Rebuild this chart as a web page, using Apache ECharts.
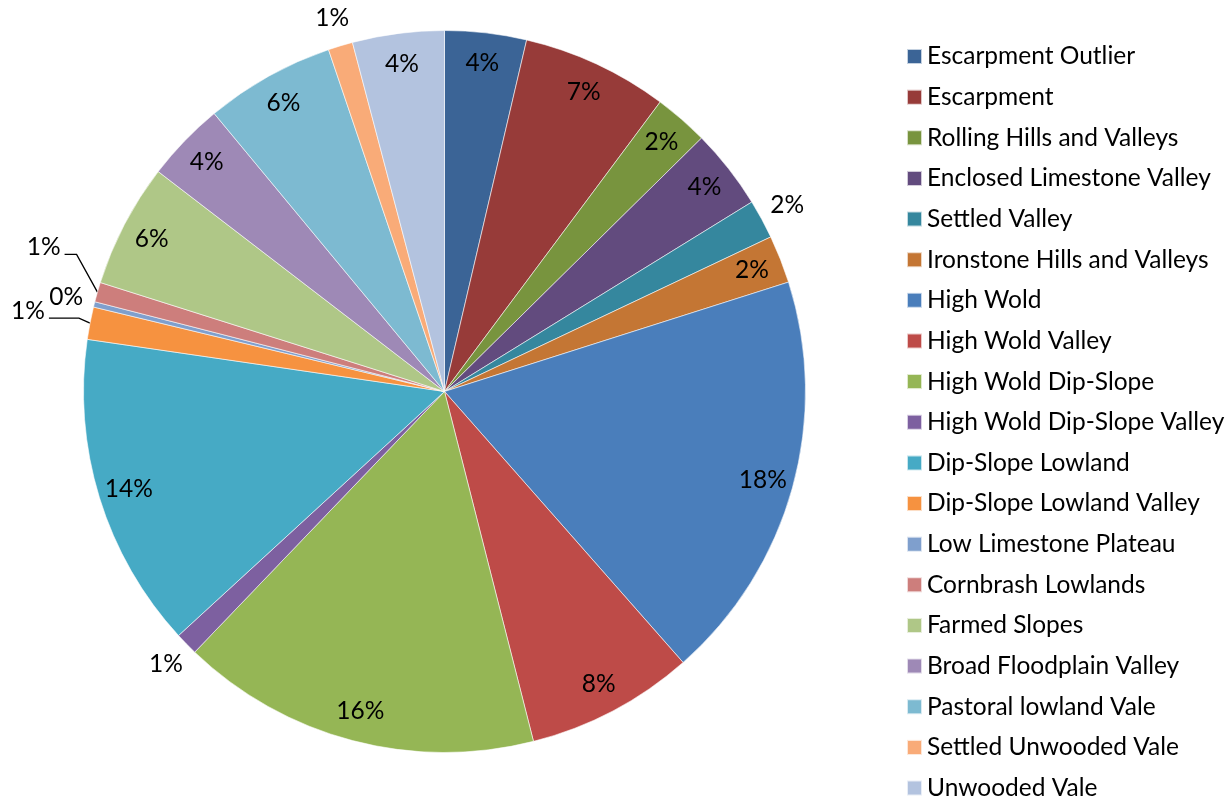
<!DOCTYPE html>
<html>
<head>
<meta charset="utf-8">
<title>Landscape character types</title>
<script src="https://cdn.jsdelivr.net/npm/echarts@6/dist/echarts.min.js"></script>
<style>
  html, body { margin: 0; padding: 0; background: #fff; }
  #chart { width: 1231px; height: 799px; }
</style>
</head>
<body>
<div id="chart"></div>
<script>
// Share of area by landscape character type (percent)
const categories = [
  'Escarpment Outlier', 'Escarpment', 'Rolling Hills and Valleys',
  'Enclosed Limestone Valley', 'Settled Valley', 'Ironstone Hills and Valleys',
  'High Wold', 'High Wold Valley', 'High Wold Dip-Slope',
  'High Wold Dip-Slope Valley', 'Dip-Slope Lowland', 'Dip-Slope Lowland Valley',
  'Low Limestone Plateau', 'Cornbrash Lowlands', 'Farmed Slopes',
  'Broad Floodplain Valley', 'Pastoral lowland Vale', 'Settled Unwooded Vale',
  'Unwooded Vale'
];
const shares = [
  3.65, 6.53, 2.42,
  3.59, 1.75, 2.14,
  18.39, 7.52, 16.11,
  1.02, 14.11, 1.45,
  0.24, 0.88, 5.54,
  3.56, 5.80, 1.10,
  4.10
];
const colors = [
  '#3B6496', '#973B39', '#78943E',
  '#624B7E', '#35879E', '#C47634',
  '#4A7EBB', '#BE4B48', '#95B655',
  '#7D60A0', '#46AAC5', '#F69240',
  '#7F9FCD', '#CD7E7C', '#AFC787',
  '#9E89B6', '#7DBAD1', '#F9AB78',
  '#B3C3DF'
];

// Pie geometry (pixels)
const CX = 444.5, CY = 391.5, R = 361;
const FONT = 'Lato, "Open Sans", sans-serif';
const FONT_SIZE = 24.5;

// Label placement: radius as a fraction of R, optional angle shift (deg)
// and optional leader stub length for labels pulled away from the pie.
const INSIDE_R = 0.915, OUTSIDE_R = 1.08;
const labelPlacement = {
  'Settled Valley': { r: OUTSIDE_R },
  'High Wold Dip-Slope Valley': { r: OUTSIDE_R },
  'Low Limestone Plateau': { r: OUTSIDE_R },
  'Settled Unwooded Vale': { r: OUTSIDE_R },
  'Cornbrash Lowlands': { r: 1.18, da: 3.8, leader: 12 },
  'Dip-Slope Lowland Valley': { r: 1.175, da: 0, leader: 30 }
};

const total = shares.reduce((a, b) => a + b, 0);
const midAngles = [];
let acc = 0;
shares.forEach(v => { midAngles.push((acc + v / 2) / total * 360); acc += v; });

const pieData = categories.map((name, i) => {
  const item = { name, value: shares[i], itemStyle: { color: colors[i] } };
  const p = labelPlacement[name];
  if (p && p.leader) {
    item.label = { position: 'outside' };
    item.labelLine = { show: true };
  }
  return item;
});

const chart = echarts.init(document.getElementById('chart'), null, { renderer: 'canvas' });
chart.setOption({
  animation: false,
  backgroundColor: '#ffffff',
  legend: {
    orient: 'vertical',
    left: 906,
    top: 44,
    height: 760,
    padding: 0,
    icon: 'rect',
    itemWidth: 15,
    itemHeight: 15,
    itemGap: 15.64,
    data: categories,
    textStyle: {
      fontFamily: FONT,
      fontSize: FONT_SIZE,
      color: '#000'
    }
  },
  series: [{
    type: 'pie',
    center: [CX, CY],
    radius: [0, R],
    startAngle: 90,
    clockwise: true,
    avoidLabelOverlap: false,
    silent: true,
    data: pieData,
    itemStyle: {
      borderColor: 'rgba(255,255,255,0.7)',
      borderWidth: 0.8
    },
    label: {
      show: true,
      position: 'inside',
      color: '#000',
      fontFamily: FONT,
      fontSize: FONT_SIZE,
      formatter: p => Math.round(p.percent) + '%'
    },
    labelLine: {
      show: false,
      lineStyle: { color: '#000', width: 1.3 }
    },
    labelLayout: params => {
      const i = params.dataIndex;
      const p = labelPlacement[categories[i]] || { r: INSIDE_R };
      const a = (midAngles[i] + (p.da || 0)) * Math.PI / 180;
      const x = CX + R * p.r * Math.sin(a);
      const y = CY - R * p.r * Math.cos(a);
      const out = { x, y, align: 'center', verticalAlign: 'middle' };
      if (p.leader) {
        const am = midAngles[i] * Math.PI / 180;
        const edge = [CX + R * Math.sin(am), CY - R * Math.cos(am)];
        const end = [x + params.labelRect.width / 2 + 4, y + 7];
        const bend = [end[0] + p.leader, end[1]];
        out.labelLinePoints = [end, bend, edge];
      }
      return out;
    }
  }]
});
</script>
</body>
</html>
